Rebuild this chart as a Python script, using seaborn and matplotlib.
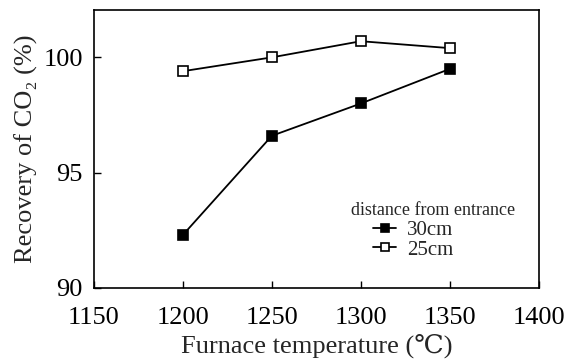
import matplotlib
matplotlib.use("Agg")
import matplotlib.pyplot as plt
import seaborn as sns
import pandas as pd

temps = [1200, 1250, 1300, 1350]
rec_30cm = [92.3, 96.6, 98.0, 99.5]
rec_25cm = [99.4, 100.0, 100.7, 100.4]
series_names = ["30cm", "25cm"]
legend_title = "distance from entrance"
xticks = [1150, 1200, 1250, 1300, 1350, 1400]
yticks = [90, 95, 100]

sns.set_theme(style="ticks")
plt.rcParams['font.family'] = ['Liberation Serif', 'DejaVu Serif']

df = pd.DataFrame({
    "temp": temps * 2,
    "rec": rec_30cm + rec_25cm,
    "dist": [series_names[0]] * 4 + [series_names[1]] * 4,
})

fig = plt.figure(figsize=(5.69, 3.6), dpi=100)
ax = fig.add_axes([0.165, 0.2, 0.782, 0.772])

for name, mfc in zip(series_names, ["black", "white"]):
    sub = df[df["dist"] == name]
    sns.lineplot(data=sub, x="temp", y="rec", ax=ax, color="black", lw=1.3,
                 marker="s", markersize=7.5, markerfacecolor=mfc,
                 markeredgecolor="black", markeredgewidth=1.2, label=name)

ax.set_xlim(1150, 1400)
ax.set_ylim(90, 102.05)
ax.set_xticks(xticks)
ax.set_yticks(yticks)
ax.tick_params(direction="in", length=5, width=1, labelsize=19, colors="black")
ax.tick_params(axis="x", pad=14)
ax.tick_params(axis="y", pad=8)
for s in ax.spines.values():
    s.set_linewidth(1.2)
    s.set_color("black")
ax.set_xlabel("Furnace temperature (℃)", fontsize=19, labelpad=3)
ax.set_ylabel("Recovery of CO₂ (%)", fontsize=19, labelpad=4)

ax.text(0.946, 0.28, legend_title, transform=ax.transAxes, ha="right",
        va="center", fontsize=13)
leg = ax.legend(loc="upper left", bbox_to_anchor=(0.628, 0.243), frameon=False,
                fontsize=15, handlelength=1.1, handletextpad=0.5,
                labelspacing=0.0, borderpad=0.0, borderaxespad=0.0,
                markerscale=0.7)

fig.savefig("out.png", dpi=100)
